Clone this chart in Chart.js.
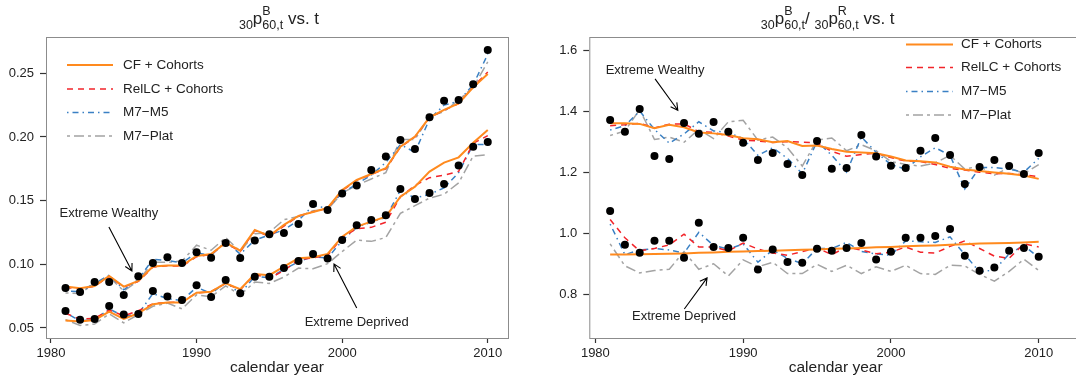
<!DOCTYPE html>
<html>
<head>
<meta charset="utf-8">
<script src="https://cdn.jsdelivr.net/npm/chart.js@4.4.1/dist/chart.umd.min.js"></script>
<style>
  html, body { margin: 0; padding: 0; background: #fff; overflow: hidden; }
  body { width: 1076px; height: 383px; position: relative; }
  .panel { position: absolute; top: 0; height: 383px; }
  #leftWrap { left: 0; width: 538px; }
  #rightWrap { left: 538px; width: 560px; }
</style>
</head>
<body>
<div class="panel" id="leftWrap"><canvas id="leftChart" width="538" height="383"></canvas></div>
<div class="panel" id="rightWrap"><canvas id="rightChart" width="560" height="383"></canvas></div>
<script>
var years = [1981, 1982, 1983, 1984, 1985, 1986, 1987, 1988, 1989, 1990,
             1991, 1992, 1993, 1994, 1995, 1996, 1997, 1998, 1999, 2000,
             2001, 2002, 2003, 2004, 2005, 2006, 2007, 2008, 2009, 2010];

var xTicks = [1980, 1990, 2000, 2010];
var probTicks = [0.05, 0.10, 0.15, 0.20, 0.25];
var ratioTicks = [0.8, 1.0, 1.2, 1.4, 1.6];

var seriesNames = ['CF + Cohorts', 'RelLC + Cohorts', 'M7\u2212M5', 'M7\u2212Plat'];

// 30p60,t for the extreme wealthy / deprived groups
var wealthyObs = [0.0814, 0.0783, 0.0861, 0.0861, 0.0759, 0.0906, 0.1010, 0.1055, 0.1010, 0.1094,
                  0.1052, 0.1168, 0.1050, 0.1186, 0.1236, 0.1246, 0.1317, 0.1474, 0.1427, 0.1555,
                  0.1618, 0.1741, 0.1846, 0.1976, 0.1906, 0.2154, 0.2285, 0.2290, 0.2414, 0.2683];
var wealthyCF = [0.0825, 0.0812, 0.0830, 0.0908, 0.0825, 0.0869, 0.0982, 0.0990, 0.0990, 0.1065,
                 0.1081, 0.1170, 0.1107, 0.1270, 0.1223, 0.1309, 0.1380, 0.1411, 0.1442, 0.1584,
                 0.1662, 0.1709, 0.1754, 0.1924, 0.2003, 0.2154, 0.2212, 0.2264, 0.2390, 0.2495];
var wealthyRelLC = [0.0818, 0.0808, 0.0828, 0.0905, 0.0820, 0.0865, 0.0978, 0.0988, 0.0985, 0.1060,
                    0.1078, 0.1168, 0.1100, 0.1265, 0.1220, 0.1300, 0.1378, 0.1412, 0.1440, 0.1578,
                    0.1660, 0.1705, 0.1750, 0.1920, 0.2000, 0.2150, 0.2210, 0.2262, 0.2395, 0.2510];
var wealthyM7M5 = [0.0790, 0.0785, 0.0850, 0.0915, 0.0800, 0.0880, 0.1040, 0.1030, 0.1010, 0.1090,
                   0.1070, 0.1180, 0.1080, 0.1190, 0.1230, 0.1270, 0.1345, 0.1460, 0.1440, 0.1560,
                   0.1630, 0.1700, 0.1800, 0.1940, 0.1880, 0.2140, 0.2250, 0.2280, 0.2410, 0.2650];
var wealthyM7Plat = [0.0775, 0.0770, 0.0850, 0.0900, 0.0790, 0.0870, 0.1015, 0.1015, 0.1025, 0.1150,
                     0.1110, 0.1210, 0.1100, 0.1240, 0.1250, 0.1350, 0.1375, 0.1420, 0.1430, 0.1560,
                     0.1620, 0.1670, 0.1720, 0.1980, 0.1980, 0.2160, 0.2200, 0.2290, 0.2390, 0.2590];

var deprivedObs = [0.0634, 0.0565, 0.0571, 0.0673, 0.0605, 0.0610, 0.0791, 0.0746, 0.0720, 0.0835,
                   0.0743, 0.0877, 0.0772, 0.0903, 0.0903, 0.0971, 0.1026, 0.1081, 0.1045, 0.1191,
                   0.1306, 0.1348, 0.1385, 0.1592, 0.1513, 0.1560, 0.1631, 0.1775, 0.1924, 0.1961];
var deprivedCF = [0.0558, 0.0550, 0.0563, 0.0628, 0.0571, 0.0615, 0.0686, 0.0699, 0.0699, 0.0777,
                  0.0785, 0.0851, 0.0804, 0.0924, 0.0914, 0.0982, 0.1047, 0.1055, 0.1081, 0.1217,
                  0.1296, 0.1335, 0.1374, 0.1531, 0.1610, 0.1728, 0.1798, 0.1840, 0.1955, 0.2055];
var deprivedRelLC = [0.0615, 0.0570, 0.0575, 0.0640, 0.0595, 0.0635, 0.0690, 0.0700, 0.0705, 0.0775,
                     0.0785, 0.0850, 0.0800, 0.0920, 0.0890, 0.0950, 0.1035, 0.1050, 0.1070, 0.1210,
                     0.1280, 0.1290, 0.1330, 0.1530, 0.1620, 0.1680, 0.1700, 0.1730, 0.1950, 0.2010];
var deprivedM7M5 = [0.0620, 0.0555, 0.0565, 0.0650, 0.0590, 0.0610, 0.0770, 0.0730, 0.0715, 0.0820,
                    0.0770, 0.0860, 0.0770, 0.0905, 0.0895, 0.0960, 0.1020, 0.1060, 0.1050, 0.1185,
                    0.1290, 0.1330, 0.1370, 0.1580, 0.1520, 0.1550, 0.1600, 0.1720, 0.1940, 0.1940];
var deprivedM7Plat = [0.0565, 0.0520, 0.0530, 0.0610, 0.0540, 0.0605, 0.0670, 0.0695, 0.0650, 0.0760,
                      0.0745, 0.0830, 0.0760, 0.0860, 0.0850, 0.0900, 0.0970, 0.0965, 0.1005, 0.1100,
                      0.1190, 0.1180, 0.1210, 0.1400, 0.1460, 0.1520, 0.1550, 0.1640, 0.1850, 0.1860];

// ratio of 30p60,t against the reference population
var ratioWealthyObs = [1.371, 1.332, 1.407, 1.253, 1.243, 1.361, 1.326, 1.364, 1.332, 1.296,
                       1.240, 1.263, 1.227, 1.191, 1.302, 1.211, 1.214, 1.322, 1.251, 1.221,
                       1.214, 1.270, 1.312, 1.256, 1.161, 1.217, 1.240, 1.220, 1.194, 1.263];
var ratioWealthyCF = [1.360, 1.360, 1.358, 1.344, 1.355, 1.347, 1.330, 1.327, 1.322, 1.311,
                      1.308, 1.298, 1.302, 1.286, 1.287, 1.276, 1.267, 1.264, 1.262, 1.251,
                      1.238, 1.236, 1.232, 1.218, 1.209, 1.204, 1.199, 1.195, 1.189, 1.178];
var ratioWealthyRelLC = [1.352, 1.355, 1.360, 1.345, 1.357, 1.358, 1.333, 1.330, 1.318, 1.305,
                         1.302, 1.297, 1.300, 1.298, 1.296, 1.268, 1.252, 1.258, 1.262, 1.248,
                         1.236, 1.235, 1.225, 1.212, 1.207, 1.200, 1.195, 1.196, 1.191, 1.185];
var ratioWealthyM7M5 = [1.338, 1.352, 1.400, 1.340, 1.295, 1.325, 1.365, 1.335, 1.330, 1.310,
                        1.255, 1.280, 1.245, 1.195, 1.300, 1.255, 1.200, 1.315, 1.265, 1.225,
                        1.210, 1.250, 1.280, 1.255, 1.145, 1.215, 1.215, 1.210, 1.200, 1.245];
var ratioWealthyM7Plat = [1.320, 1.335, 1.405, 1.307, 1.315, 1.298, 1.340, 1.310, 1.365, 1.370,
                          1.305, 1.315, 1.280, 1.220, 1.305, 1.312, 1.270, 1.290, 1.270, 1.235,
                          1.225, 1.220, 1.230, 1.255, 1.210, 1.220, 1.190, 1.215, 1.195, 1.225];

var ratioDeprivedObs = [1.073, 0.962, 0.936, 0.975, 0.975, 0.920, 1.034, 0.955, 0.952, 0.985,
                        0.881, 0.947, 0.906, 0.903, 0.949, 0.943, 0.952, 0.968, 0.914, 0.939,
                        0.985, 0.985, 0.991, 1.014, 0.926, 0.877, 0.888, 0.943, 0.952, 0.923];
var ratioDeprivedCF = [0.930, 0.930, 0.931, 0.932, 0.933, 0.934, 0.936, 0.937, 0.939, 0.940,
                       0.942, 0.943, 0.944, 0.946, 0.947, 0.949, 0.950, 0.952, 0.954, 0.955,
                       0.957, 0.959, 0.960, 0.962, 0.964, 0.966, 0.967, 0.968, 0.970, 0.972];
var ratioDeprivedRelLC = [1.045, 0.985, 0.942, 0.950, 0.962, 0.997, 0.955, 0.955, 0.942, 0.968,
                          0.948, 0.935, 0.928, 0.940, 0.952, 0.930, 0.955, 0.945, 0.933, 0.938,
                          0.955, 0.938, 0.935, 0.957, 0.975, 0.950, 0.925, 0.918, 0.965, 0.955];
var ratioDeprivedM7M5 = [1.030, 0.930, 0.945, 0.950, 0.945, 0.935, 1.003, 0.960, 0.948, 0.965,
                         0.905, 0.945, 0.918, 0.900, 0.950, 0.950, 0.970, 0.940, 0.932, 0.928,
                         0.975, 0.972, 0.970, 0.988, 0.930, 0.873, 0.880, 0.932, 0.960, 0.920];
var ratioDeprivedM7Plat = [0.965, 0.893, 0.870, 0.878, 0.882, 0.940, 0.882, 0.900, 0.860, 0.913,
                           0.890, 0.905, 0.868, 0.868, 0.898, 0.875, 0.895, 0.868, 0.890, 0.875,
                           0.895, 0.868, 0.865, 0.895, 0.893, 0.865, 0.843, 0.875, 0.915, 0.878];

var FONT = '"Liberation Sans", Arial, Helvetica, sans-serif';
var TEXT = '#222';

var lineStyles = [
  { color: '#ff8a1e', width: 2,   dash: [] },
  { color: '#f2242a', width: 1.5, dash: [6, 5] },
  { color: '#3a80c4', width: 1.5, dash: [1.5, 4, 6, 4] },
  { color: '#a3a3a3', width: 1.5, dash: [3, 4, 10, 4] }
];

function pts(vals) {
  return vals.map(function (v, i) { return { x: years[i], y: v }; });
}

function buildDatasets(groups) {
  var ds = [];
  groups.forEach(function (g) {
    ds.push({
      data: pts(g.obs), showLine: false, pointRadius: 4, pointHoverRadius: 4,
      pointBackgroundColor: '#000', pointBorderWidth: 0, order: 0
    });
    g.fits.forEach(function (vals, k) {
      var st = lineStyles[k];
      ds.push({
        data: pts(vals), borderColor: st.color, borderWidth: st.width, borderDash: st.dash,
        pointRadius: 0, tension: 0, fill: false, order: k + 1
      });
    });
  });
  return ds;
}

// box, title with plotmath-like scripts, legend and arrow notes
var decorations = {
  id: 'decorations',
  afterDraw: function (chart, args, o) {
    var ctx = chart.ctx, a = chart.chartArea;
    ctx.save();
    ctx.strokeStyle = '#8c8c8c';
    ctx.lineWidth = 1;
    ctx.setLineDash([]);
    ctx.strokeRect(a.left + 0.5, a.top + 0.5, a.right - a.left, a.bottom - a.top);

    // title
    var big = '17px ' + FONT, small = '12.5px ' + FONT;
    var parts = o.title.map(function (p) {
      var w;
      if (p.main !== undefined) { ctx.font = big; w = ctx.measureText(p.main).width; }
      else {
        ctx.font = small;
        w = Math.max(ctx.measureText(p.sub || '').width, ctx.measureText(p.sup || '').width);
      }
      return { p: p, w: w };
    });
    var total = parts.reduce(function (s, q) { return s + q.w; }, 0);
    var x = o.titleX - total / 2;
    ctx.fillStyle = TEXT;
    ctx.textBaseline = 'alphabetic';
    ctx.textAlign = 'left';
    parts.forEach(function (q) {
      if (q.p.main !== undefined) { ctx.font = big; ctx.fillText(q.p.main, x, 24); }
      else {
        ctx.font = small;
        if (q.p.sub) ctx.fillText(q.p.sub, x, 28.5);
        if (q.p.sup) ctx.fillText(q.p.sup, x, 15);
      }
      x += q.w;
    });

    // legend
    var L = o.legend;
    ctx.font = '13.5px ' + FONT;
    ctx.textBaseline = 'middle';
    seriesNames.forEach(function (name, k) {
      var st = lineStyles[k], y = L.rows[k];
      ctx.beginPath();
      ctx.strokeStyle = st.color;
      ctx.lineWidth = st.width;
      ctx.setLineDash(st.dash);
      ctx.moveTo(L.x0, y);
      ctx.lineTo(L.x1, y);
      ctx.stroke();
      ctx.setLineDash([]);
      ctx.fillStyle = TEXT;
      ctx.fillText(name, L.tx, y);
    });

    // notes with arrows
    var xs = chart.scales.x, ys = chart.scales.y;
    ctx.font = '13px ' + FONT;
    ctx.textAlign = 'center';
    o.notes.forEach(function (n) {
      ctx.fillStyle = TEXT;
      ctx.fillText(n.text, xs.getPixelForValue(n.at[0]), ys.getPixelForValue(n.at[1]));
      var x0 = xs.getPixelForValue(n.from[0]), y0 = ys.getPixelForValue(n.from[1]);
      var x1 = xs.getPixelForValue(n.to[0]), y1 = ys.getPixelForValue(n.to[1]);
      var ang = Math.atan2(y1 - y0, x1 - x0), h = 8;
      ctx.strokeStyle = '#000';
      ctx.lineWidth = 1.1;
      ctx.beginPath();
      ctx.moveTo(x0, y0); ctx.lineTo(x1, y1);
      ctx.moveTo(x1 - h * Math.cos(ang - 0.5), y1 - h * Math.sin(ang - 0.5));
      ctx.lineTo(x1, y1);
      ctx.lineTo(x1 - h * Math.cos(ang + 0.5), y1 - h * Math.sin(ang + 0.5));
      ctx.stroke();
    });
    ctx.restore();
  }
};

function makeChart(id, cfg) {
  return new Chart(document.getElementById(id), {
    type: 'line',
    data: { datasets: buildDatasets(cfg.groups) },
    plugins: [decorations],
    options: {
      responsive: false,
      animation: false,
      events: [],
      layout: { padding: { left: 0, top: 37, right: cfg.padRight, bottom: 0 } },
      plugins: {
        legend: { display: false },
        tooltip: { enabled: false },
        decorations: { title: cfg.title, titleX: cfg.titleX, legend: cfg.legend, notes: cfg.notes }
      },
      scales: {
        x: {
          type: 'linear', min: cfg.xMin, max: cfg.xMax,
          afterBuildTicks: function (s) { s.ticks = xTicks.map(function (v) { return { value: v }; }); },
          afterFit: function (s) { s.height = 45; },
          grid: { drawOnChartArea: false, drawTicks: true, tickLength: 5, color: '#333', tickWidth: 1.2 },
          border: { display: false },
          ticks: {
            color: TEXT, font: { family: FONT, size: 13 }, padding: 3, maxRotation: 0,
            callback: function (v) { return String(v); }
          },
          title: { display: true, text: 'calendar year', color: TEXT,
                   font: { family: FONT, size: 15.5 }, padding: { top: 0, bottom: 6 } }
        },
        y: {
          min: cfg.yMin, max: cfg.yMax,
          afterBuildTicks: function (s) { s.ticks = cfg.yTicks.map(function (v) { return { value: v }; }); },
          afterFit: function (s) { s.width = cfg.chartLeft; },
          grid: { drawOnChartArea: false, drawTicks: true, tickLength: 6, color: '#333', tickWidth: 1.2 },
          border: { display: false },
          ticks: {
            color: TEXT, font: { family: FONT, size: 13 }, padding: 6,
            callback: function (v) { return v.toFixed(cfg.digits); }
          }
        }
      }
    }
  });
}

makeChart('leftChart', {
  groups: [
    { obs: wealthyObs, fits: [wealthyCF, wealthyRelLC, wealthyM7M5, wealthyM7Plat] },
    { obs: deprivedObs, fits: [deprivedCF, deprivedRelLC, deprivedM7M5, deprivedM7Plat] }
  ],
  xMin: 1979.66, xMax: 2011.39, yMin: 0.0421, yMax: 0.2785,
  yTicks: probTicks, digits: 2, chartLeft: 46, padRight: 30,
  title: [{ sub: '30' }, { main: 'p' }, { sub: '60,t', sup: 'B' }, { main: ' vs. t' }],
  titleX: 279,
  legend: { x0: 67, x1: 113, tx: 123, rows: [65, 89, 112.5, 136] },
  notes: [
    { text: 'Extreme Wealthy', at: [1983.98, 0.1403], from: [1983.98, 0.1293], to: [1985.56, 0.0948] },
    { text: 'Extreme Deprived', at: [2001.0, 0.0547], from: [2001.0, 0.0657], to: [1999.44, 0.1003] }
  ]
});

makeChart('rightChart', {
  groups: [
    { obs: ratioWealthyObs, fits: [ratioWealthyCF, ratioWealthyRelLC, ratioWealthyM7M5, ratioWealthyM7Plat] },
    { obs: ratioDeprivedObs, fits: [ratioDeprivedCF, ratioDeprivedRelLC, ratioDeprivedM7M5, ratioDeprivedM7Plat] }
  ],
  xMin: 1979.59, xMax: 2012.93, yMin: 0.6569, yMax: 1.6426,
  yTicks: ratioTicks, digits: 1, chartLeft: 51.3, padRight: 16,
  title: [{ sub: '30' }, { main: 'p' }, { sub: '60,t', sup: 'B' }, { main: '/ ' },
          { sub: '30' }, { main: 'p' }, { sub: '60,t', sup: 'R' }, { main: ' vs. t' }],
  titleX: 289.7,
  legend: { x0: 368, x1: 415, tx: 423, rows: [44.5, 67.5, 91.5, 115] },
  notes: [
    { text: 'Extreme Wealthy', at: [1984.04, 1.5347], from: [1984.04, 1.5053], to: [1985.58, 1.4026] },
    { text: 'Extreme Deprived', at: [1986.0, 0.726], from: [1986.02, 0.752], to: [1987.56, 0.8537] }
  ]
});
</script>
</body>
</html>
